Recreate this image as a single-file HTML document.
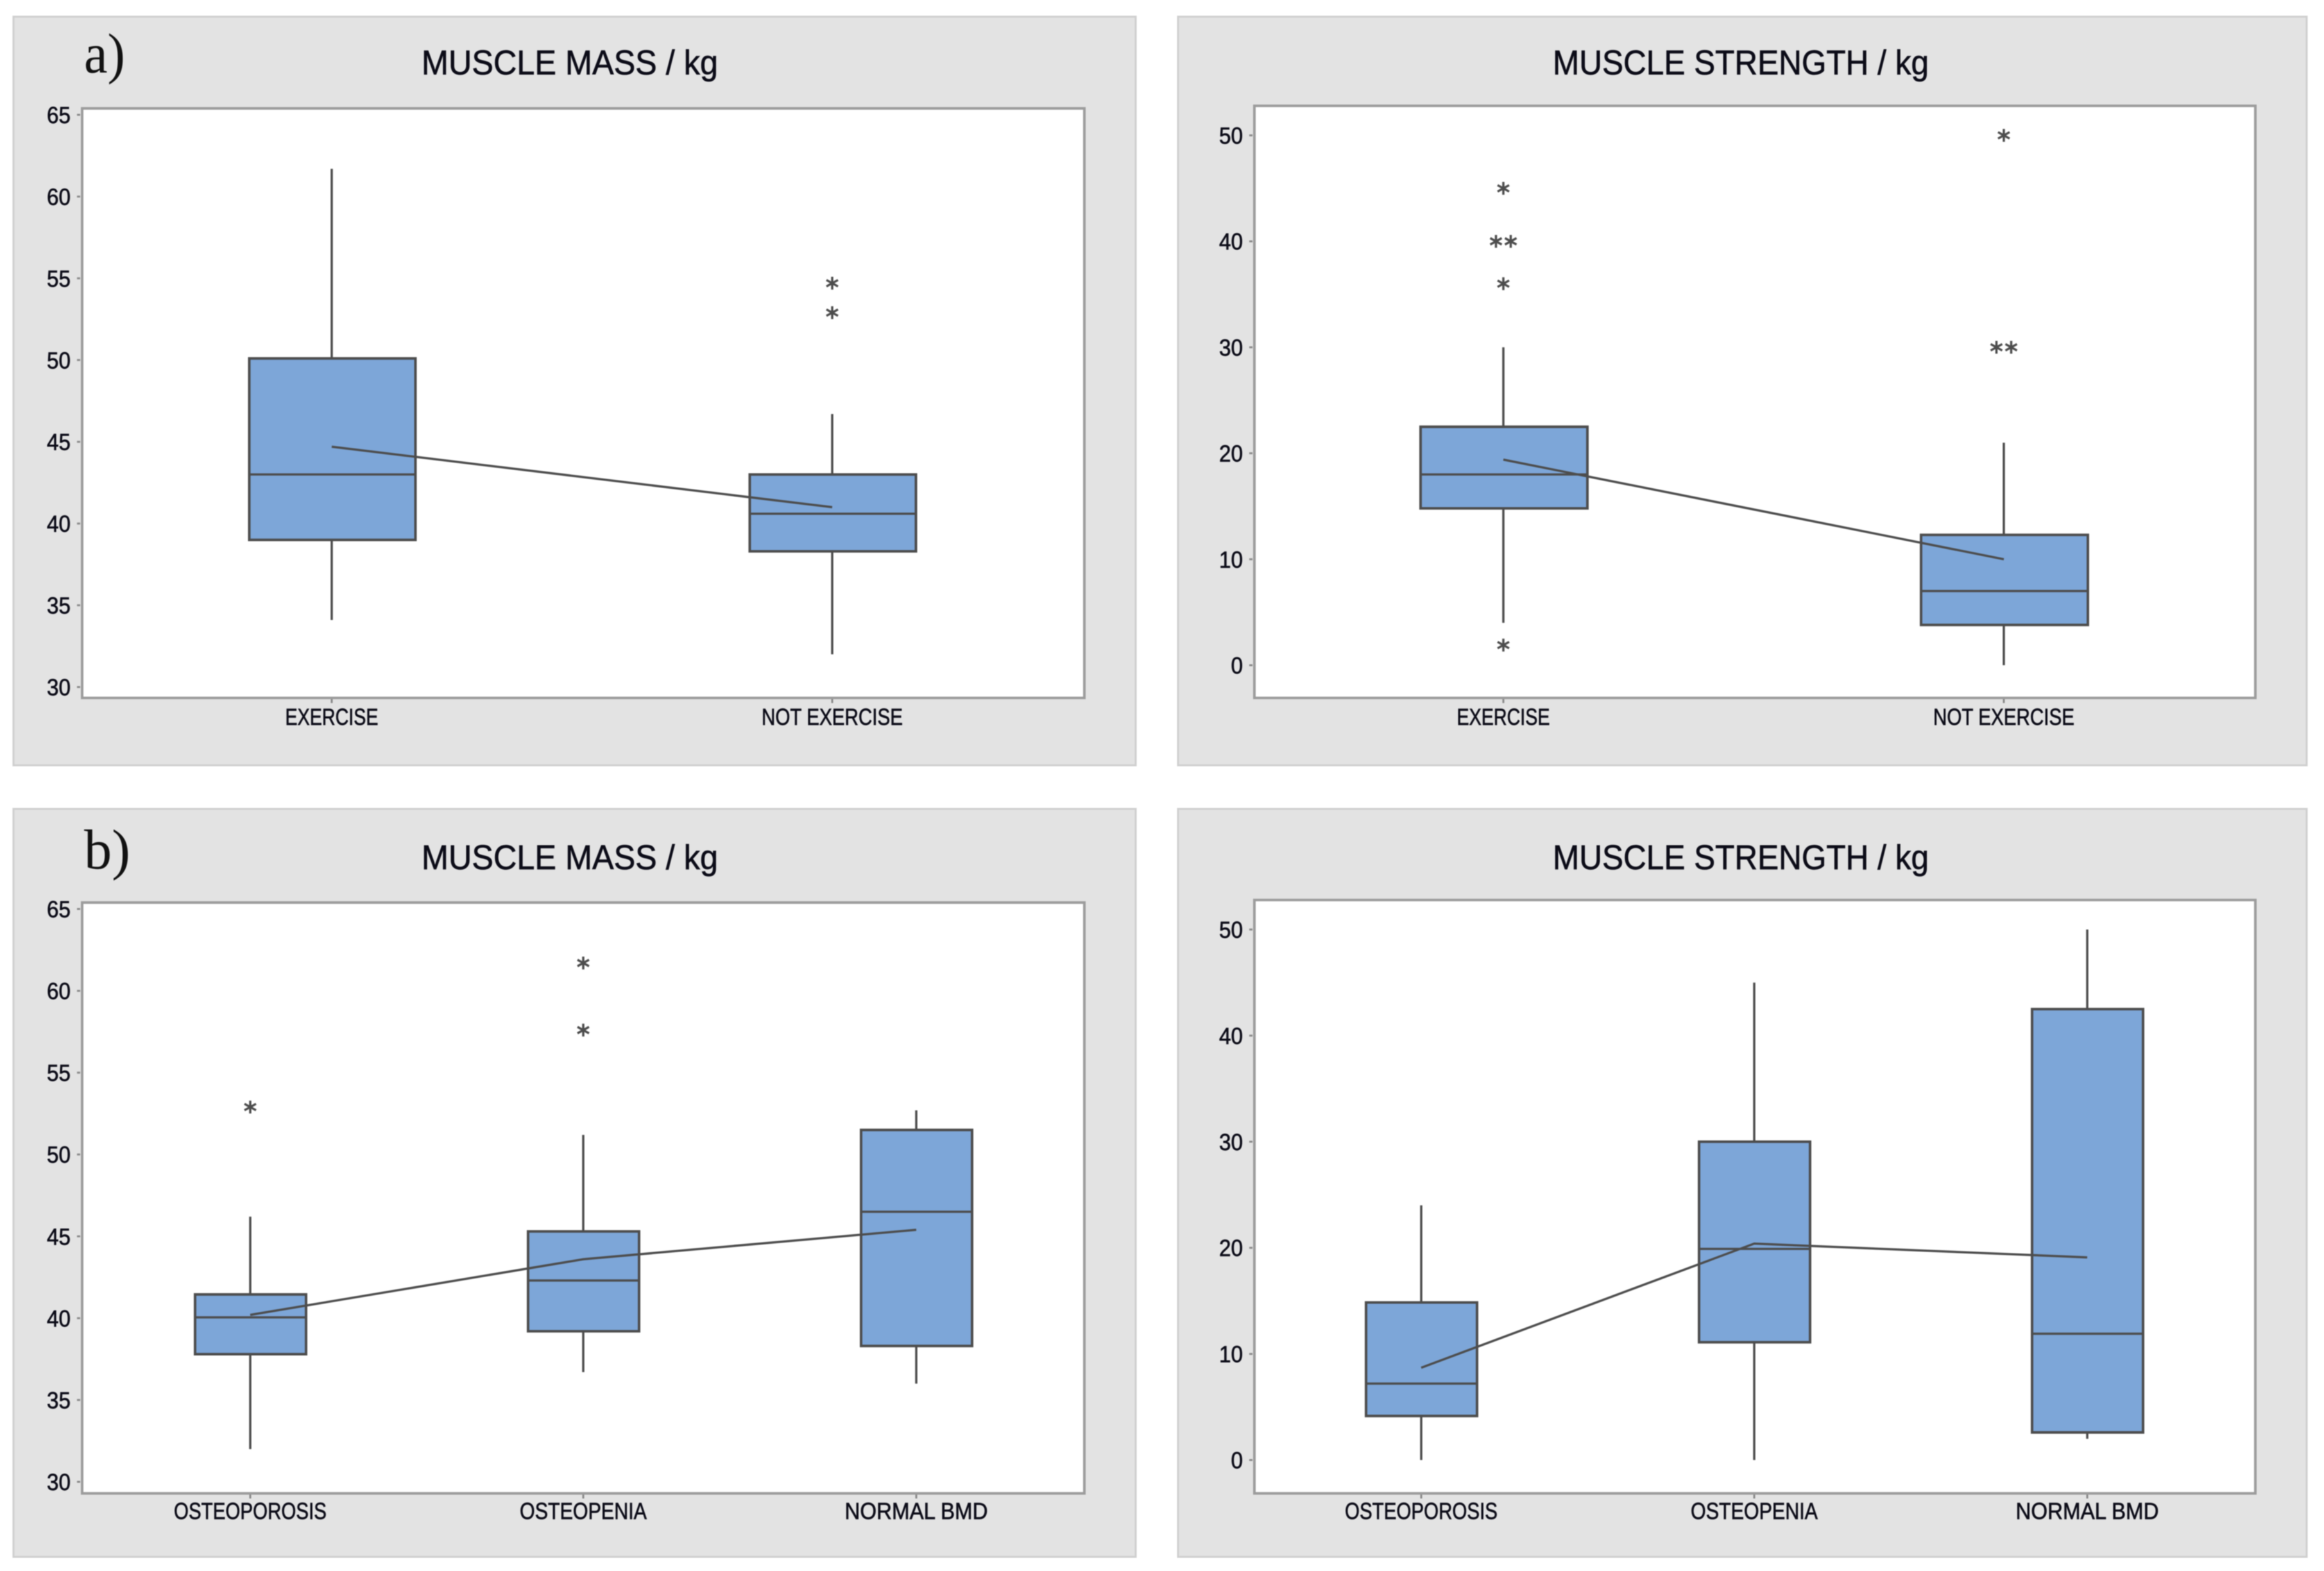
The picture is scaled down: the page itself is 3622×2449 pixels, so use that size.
<!DOCTYPE html>
<html lang="en">
<head>
<meta charset="utf-8">
<title>Muscle mass and strength box plots</title>
<style>
  html, body { margin: 0; padding: 0; background: #fff; }
  #figure { display: block; width: 3622px; height: 2449px; filter: blur(0.9px); }
  text { font-family: "Liberation Sans", sans-serif; fill: #0c0c18; stroke: #0c0c18; stroke-width: 0.7px; }
  .title { font-size: 54px; }
  .panel-letter { font-family: "Liberation Serif", serif; font-size: 88px; fill: #111; stroke: none; }
  .tick { font-size: 36px; }
  .cat { font-size: 36px; }
</style>
</head>
<body>
<svg id="figure" xmlns="http://www.w3.org/2000/svg" width="3622" height="2449" viewBox="0 0 3622 2449">
  <rect x="21" y="26" width="1749" height="1167" fill="#e3e3e3" stroke="#cfcfcf" stroke-width="3"/>
  <rect x="1836" y="26" width="1759" height="1167" fill="#e3e3e3" stroke="#cfcfcf" stroke-width="3"/>
  <rect x="21" y="1261" width="1749" height="1166" fill="#e3e3e3" stroke="#cfcfcf" stroke-width="3"/>
  <rect x="1836" y="1261" width="1759" height="1166" fill="#e3e3e3" stroke="#cfcfcf" stroke-width="3"/>

  <rect x="128" y="169" width="1562" height="919" fill="#fff" stroke="#9c9c9c" stroke-width="4"/>
  <rect x="1955" y="165" width="1560" height="923" fill="#fff" stroke="#9c9c9c" stroke-width="4"/>
  <rect x="128" y="1407" width="1562" height="921" fill="#fff" stroke="#9c9c9c" stroke-width="4"/>
  <rect x="1955" y="1403" width="1560" height="925" fill="#fff" stroke="#9c9c9c" stroke-width="4"/>

  <text class="panel-letter" x="131" y="113" textLength="64" lengthAdjust="spacingAndGlyphs">a)</text>
  <text class="panel-letter" x="131" y="1354" textLength="72" lengthAdjust="spacingAndGlyphs">b)</text>

  <text class="title" x="657" y="116" textLength="462" lengthAdjust="spacingAndGlyphs">MUSCLE MASS / kg</text>
  <text class="title" x="2420" y="116" textLength="586" lengthAdjust="spacingAndGlyphs">MUSCLE STRENGTH / kg</text>
  <text class="title" x="657" y="1355" textLength="462" lengthAdjust="spacingAndGlyphs">MUSCLE MASS / kg</text>
  <text class="title" x="2420" y="1355" textLength="586" lengthAdjust="spacingAndGlyphs">MUSCLE STRENGTH / kg</text>

  <g id="marks"></g>
</svg>

<script>
// ---------- Data ----------
const exerciseCategories = ["EXERCISE", "NOT EXERCISE"];
const bmdCategories = ["OSTEOPOROSIS", "OSTEOPENIA", "NORMAL BMD"];
const massTicks = [30, 35, 40, 45, 50, 55, 60, 65];
const strengthTicks = [0, 10, 20, 30, 40, 50];

// a) muscle mass by exercise
const aMassWhiskerLow = [34.1, 32.0];
const aMassQ1 = [39.0, 38.3];
const aMassMedian = [43.0, 40.6];
const aMassQ3 = [50.1, 43.0];
const aMassWhiskerHigh = [61.7, 46.7];
const aMassMean = [44.7, 41.0];
const aMassOutliers = [[], [54.7, 52.9]];

// a) muscle strength by exercise
const aStrengthWhiskerLow = [4.0, 0.0];
const aStrengthQ1 = [14.8, 3.8];
const aStrengthMedian = [18.0, 7.0];
const aStrengthQ3 = [22.5, 12.3];
const aStrengthWhiskerHigh = [30.0, 21.0];
const aStrengthMean = [19.4, 10.0];
const aStrengthOutliers = [[45, 40, 40, 36, 1.9], [50, 30, 30]];

// b) muscle mass by bone mineral density
const bMassWhiskerLow = [32.0, 36.7, 36.0];
const bMassQ1 = [37.8, 39.2, 38.3];
const bMassMedian = [40.05, 42.3, 46.5];
const bMassQ3 = [41.45, 45.3, 51.5];
const bMassWhiskerHigh = [46.2, 51.2, 52.7];
const bMassMean = [40.2, 43.6, 45.4];
const bMassOutliers = [[52.9], [61.7, 57.6], []];

// b) muscle strength by bone mineral density
const bStrengthWhiskerLow = [0.0, 0.0, 2.0];
const bStrengthQ1 = [4.15, 11.1, 2.6];
const bStrengthMedian = [7.2, 19.9, 11.9];
const bStrengthQ3 = [14.85, 30.0, 42.5];
const bStrengthWhiskerHigh = [24.0, 45.0, 50.0];
const bStrengthMean = [8.7, 20.4, 19.1];
const bStrengthOutliers = [[], [], []];

// ---------- Layout ----------
const labelWidths = { "EXERCISE": 145, "NOT EXERCISE": 220, "OSTEOPOROSIS": 238, "OSTEOPENIA": 198, "NORMAL BMD": 223 };
const NS = "http://www.w3.org/2000/svg";
const marks = document.getElementById("marks");
const LINE = "#4d4d4d";
const FILL = "#7da6d8";

function shape(tag, attrs, parent) {
  const el = document.createElementNS(NS, tag);
  for (const k in attrs) el.setAttribute(k, attrs[k]);
  parent.appendChild(el);
  return el;
}

function drawPanel(p) {
  const yScale = v => p.yPix0 + (v - p.yVal0) * (p.yPix1 - p.yPix0) / (p.yVal1 - p.yVal0);
  const xScale = i => p.x0 + i * p.step;

  const group = shape("g", {}, marks);
  
  

  p.ticks.forEach(t => {
    const y = yScale(t);
    const tick = shape("line", { x1: p.left - 7, x2: p.left - 2, y1: y, y2: y, stroke: "#8a8a8a", "stroke-width": 3 }, group);
    
    
    const label = shape("text", { x: p.left - 17, y: y + 13, "text-anchor": "end", class: "tick",
      textLength: String(t).length * 18.5, lengthAdjust: "spacingAndGlyphs" }, group);
    label.textContent = t;
    
    
  });

  p.categories.forEach((c, i) => {
    const x = xScale(i);
    const tick = shape("line", { x1: x, x2: x, y1: p.bottom + 2, y2: p.bottom + 8, stroke: "#8a8a8a", "stroke-width": 3 }, group);
    
    
    const label = shape("text", { x: x - labelWidths[c] / 2, y: p.bottom + p.labelDrop, class: "cat",
      textLength: labelWidths[c], lengthAdjust: "spacingAndGlyphs" }, group);
    label.textContent = c;
    
    

    const whisker = shape("line", { x1: x, x2: x, y1: yScale(p.whiskerLow[i]), y2: yScale(p.whiskerHigh[i]), stroke: LINE, "stroke-width": 3.5 }, group);
    
    

    const boxLeft = x + p.boxShift - p.boxWidth / 2;
    const box = shape("rect", { x: boxLeft, y: yScale(p.q3[i]), width: p.boxWidth, height: yScale(p.q1[i]) - yScale(p.q3[i]),
      fill: FILL, stroke: LINE, "stroke-width": 4 }, group);
    
    

    const median = shape("line", { x1: boxLeft, x2: boxLeft + p.boxWidth, y1: yScale(p.median[i]), y2: yScale(p.median[i]), stroke: LINE, "stroke-width": 3.5 }, group);
    
    

    p.outliers[i].forEach((v, j, all) => {
      const dupes = all.filter(o => o === v).length;
      const order = all.slice(0, j).filter(o => o === v).length;
      const cx = x + (order - (dupes - 1) / 2) * 23;
      const cy = yScale(v);
      const star = shape("path", {
        d: "M" + cx + " " + (cy - 10) + "V" + (cy + 10) +
           "M" + (cx - 9) + " " + (cy - 5) + "L" + (cx + 9) + " " + (cy + 5) +
           "M" + (cx - 9) + " " + (cy + 5) + "L" + (cx + 9) + " " + (cy - 5),
        stroke: LINE, "stroke-width": 3.5, fill: "none" }, group);
      
      
    });
  });

  const meanPoints = p.mean.map((m, i) => xScale(i) + "," + yScale(m)).join(" ");
  const meanLine = shape("polyline", { points: meanPoints, fill: "none", stroke: LINE, "stroke-width": 3.5 }, group);
  
  
}

drawPanel({
  name: "boxplot-exercise-muscle-mass", categories: exerciseCategories, ticks: massTicks,
  left: 127, bottom: 1088, labelDrop: 42, x0: 517, step: 780, boxWidth: 259, boxShift: 1,
  yVal0: 65, yPix0: 179, yVal1: 30, yPix1: 1071,
  whiskerLow: aMassWhiskerLow, q1: aMassQ1, median: aMassMedian, q3: aMassQ3,
  whiskerHigh: aMassWhiskerHigh, mean: aMassMean, outliers: aMassOutliers
});
drawPanel({
  name: "boxplot-exercise-muscle-strength", categories: exerciseCategories, ticks: strengthTicks,
  left: 1954, bottom: 1088, labelDrop: 42, x0: 2343, step: 780, boxWidth: 260, boxShift: 1,
  yVal0: 50, yPix0: 211, yVal1: 0, yPix1: 1037,
  whiskerLow: aStrengthWhiskerLow, q1: aStrengthQ1, median: aStrengthMedian, q3: aStrengthQ3,
  whiskerHigh: aStrengthWhiskerHigh, mean: aStrengthMean, outliers: aStrengthOutliers
});
drawPanel({
  name: "boxplot-bmd-muscle-mass", categories: bmdCategories, ticks: massTicks,
  left: 127, bottom: 2328, labelDrop: 40, x0: 390, step: 519, boxWidth: 173, boxShift: 0.5,
  yVal0: 65, yPix0: 1417, yVal1: 30, yPix1: 2310,
  whiskerLow: bMassWhiskerLow, q1: bMassQ1, median: bMassMedian, q3: bMassQ3,
  whiskerHigh: bMassWhiskerHigh, mean: bMassMean, outliers: bMassOutliers
});
drawPanel({
  name: "boxplot-bmd-muscle-strength", categories: bmdCategories, ticks: strengthTicks,
  left: 1954, bottom: 2328, labelDrop: 40, x0: 2215, step: 519, boxWidth: 173, boxShift: 0.5,
  yVal0: 50, yPix0: 1449, yVal1: 0, yPix1: 2276,
  whiskerLow: bStrengthWhiskerLow, q1: bStrengthQ1, median: bStrengthMedian, q3: bStrengthQ3,
  whiskerHigh: bStrengthWhiskerHigh, mean: bStrengthMean, outliers: bStrengthOutliers
});
</script>
</body>
</html>
